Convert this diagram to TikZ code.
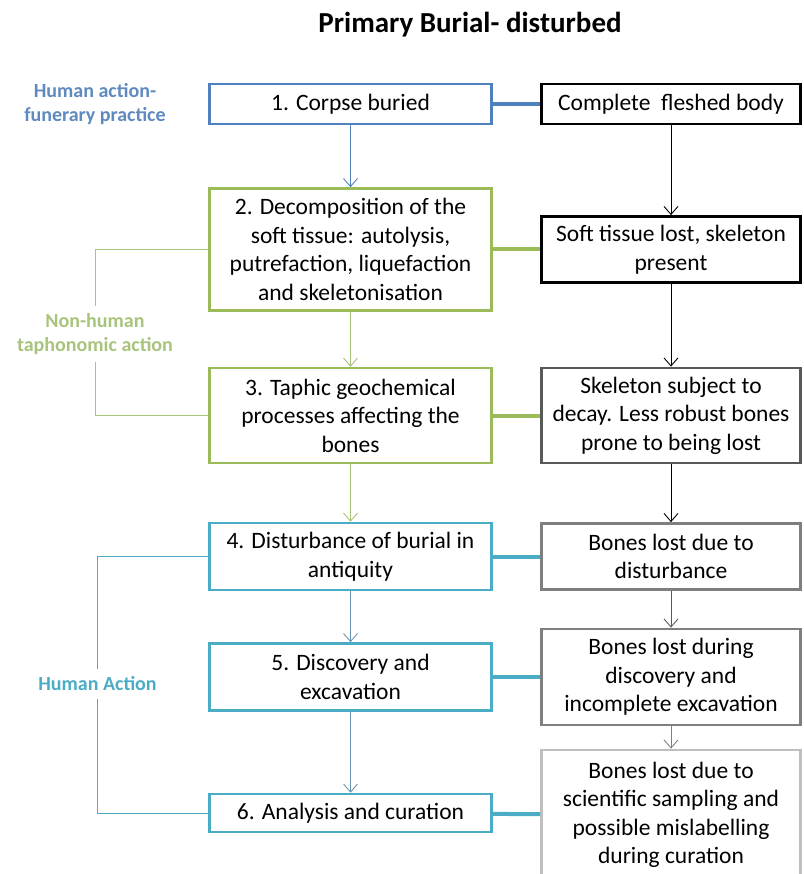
\documentclass[tikz,border=0pt]{standalone}
\usepackage{fontspec}
\setmainfont{Carlito}
\usetikzlibrary{arrows.meta}

\definecolor{actblue}{HTML}{4F81BD}
\definecolor{labblue}{HTML}{5F8AC0}
\definecolor{natgreen}{HTML}{9BBB59}
\definecolor{labgreen}{HTML}{A8C47C}
\definecolor{humteal}{HTML}{4BACC6}
\definecolor{arrteal}{HTML}{6A96B4}
\definecolor{darkgr}{HTML}{595959}
\definecolor{midgr}{HTML}{7F7F7F}
\definecolor{lightgr}{HTML}{BFBFBF}

\begin{document}
\begin{tikzpicture}[x=1pt, y=-1pt,
    stage/.style={draw=#1, line width=2.6pt, fill=white, align=center,
        minimum width=282pt, inner sep=2pt, font=\fontsize{23.5}{28.5}\selectfont},
    loss/.style={draw=#1, line width=2.8pt, fill=white, align=center,
        minimum width=259pt, inner sep=2pt, font=\fontsize{23.5}{28.5}\selectfont},
    link/.style={draw=#1, line width=4pt},
    flow/.style={draw=#1, line width=0.9pt, -{Straight Barb[length=8pt,width=14pt]}},
    brace/.style={draw=#1, line width=0.9pt},
    side/.style={text=#1, align=center, inner sep=8pt, font=\fontsize{20}{24}\selectfont\bfseries}
]
            \useasboundingbox (0,0) rectangle (803,874);
            % Title:
                \node[font=\fontsize{29}{32}\selectfont\bfseries] (title) at (470,25) {Primary Burial- disturbed};
            % Stages (left column):
                \node[stage=actblue, minimum height=40pt] (b1) at (350.5,104) {1. Corpse buried};
                \node[stage=natgreen, minimum height=122pt] (b2) at (350.5,249.5) {2. Decomposition of the\\ soft tissue: autolysis,\\ putrefaction, liquefaction\\ and skeletonisation};
                \node[stage=natgreen, minimum height=95pt] (b3) at (350.5,415.5) {3. Taphic geochemical\\ processes affecting the\\ bones};
                \node[stage=humteal, minimum height=67pt] (b4) at (350.5,556.5) {4. Disturbance of burial in\\ antiquity};
                \node[stage=humteal, minimum height=67pt] (b5) at (350.5,677) {5. Discovery and\\ excavation};
                \node[stage=humteal, minimum height=38pt] (b6) at (350.5,813) {6. Analysis and curation};
            % Body condition (right column):
                \node[loss=black, minimum height=40pt] (r1) at (671,104) {Complete~ fleshed body};
                \node[loss=black, minimum height=66pt] (r2) at (671,249.5) {Soft tissue lost, skeleton\\ present};
                \node[loss=darkgr, minimum height=95pt] (r3) at (671,415.5) {Skeleton subject to\\ decay. Less robust bones\\ prone to being lost};
                \node[loss=midgr, minimum height=66pt] (r4) at (671,556.5) {Bones lost due to\\ disturbance};
                \node[loss=midgr, minimum height=96pt] (r5) at (671,677) {Bones lost during\\ discovery and\\ incomplete excavation};
                \node[loss=lightgr, minimum height=130pt] (r6) at (671,815) {Bones lost due to\\ scientific sampling and\\ possible mislabelling\\ during curation};
            % Side labels:
                \node[side=labblue] (fun) at (95,104) {Human action-\\ funerary practice};
                \node[side=labgreen, inner sep=7pt] (nh) at (95,334) {Non-human\\ taphonomic action};
                \node[side=humteal, inner sep=8pt] (ha) at (97.5,684) {Human Action};
            % Links between columns:
                \draw[link=actblue] (b1) -- (r1);
                \draw[link=natgreen] (b2) -- (r2);
                \draw[link=natgreen] (b3) -- (r3);
                \draw[link=humteal] (b4) -- (r4);
                \draw[link=humteal] (b5) -- (r5);
                \draw[link=humteal] (b6) -- (r6);
            % Arrows:
                \draw[flow=actblue] (b1) -- (b2);
                \draw[flow=labgreen] (b2) -- (b3);
                \draw[flow=labgreen] (b3) -- (b4);
                \draw[flow=arrteal] (b4) -- (b5);
                \draw[flow=arrteal] (b5) -- (b6);
                \draw[flow=black] (r1) -- (r2);
                \draw[flow=black] (r2) -- (r3);
                \draw[flow=black] (r3) -- (r4);
                \draw[flow=darkgr] (r4) -- (r5);
                \draw[flow=midgr] (r5) -- (r6);
            % Brackets:
                \draw[brace=labgreen] (b2.west) -| (nh.north);
                \draw[brace=labgreen] (nh.south) |- (b3.west);
                \draw[brace=humteal] (b4.west) -| (ha.north);
                \draw[brace=humteal] (ha.south) |- (b6.west);
            \end{tikzpicture}
\end{document}
